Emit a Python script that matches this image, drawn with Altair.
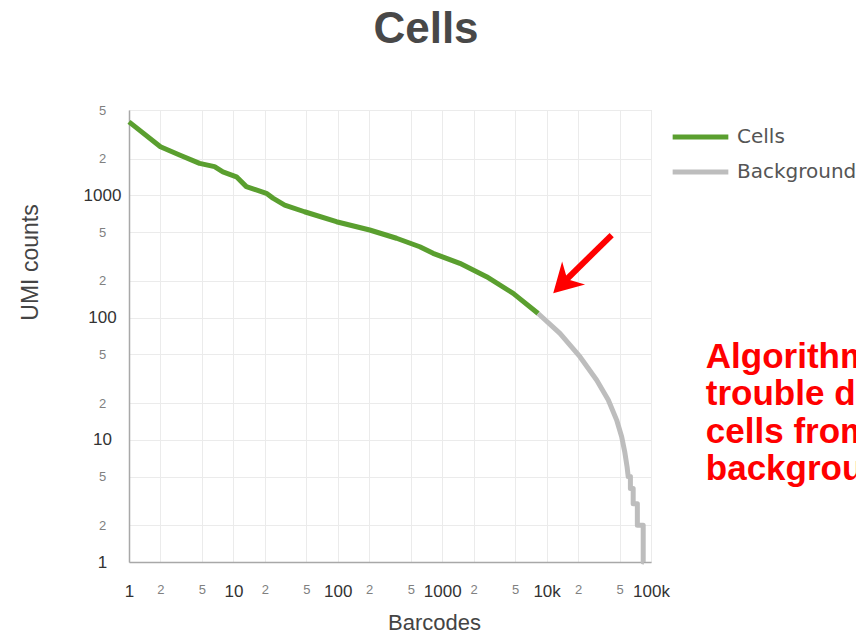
import altair as alt
import pandas as pd

# Barcode rank curve: barcodes called as cells
cell_barcodes = [1, 2, 3.05, 4.74, 6.6, 7.93, 10.7, 13.3, 20.7, 23.9, 31, 48, 97, 202,
                 365, 610, 818, 1475, 2660, 4786, 8300]
cell_umis = [4000, 2500, 2140, 1830, 1720, 1560, 1420, 1180, 1040, 950, 834, 735, 609,
             521, 446, 380, 336, 278, 216, 158, 108]

# Remaining barcodes treated as background
bg_barcodes = [8300, 13420, 20850, 30130, 38990, 46900, 52360, 56000, 59000, 60500,
               63500, 63500, 67500, 67500, 74000, 74000, 84200, 84200, 85500]
bg_umis = [108, 74.4, 47.9, 30.9, 21.2, 14.5, 10.6, 8, 6, 5,
           5, 4, 4, 3, 3, 2, 2, 1, 1]

series_names = ["Cells", "Background"]
series_colors = ["#5a9f2f", "#bdbdbd"]

x_ticks = [1, 2, 5, 10, 20, 50, 100, 200, 500, 1000, 2000, 5000,
           10000, 20000, 50000, 100000]
y_ticks = [1, 2, 5, 10, 20, 50, 100, 200, 500, 1000, 2000, 5000]

# Annotation arrow (tail -> into the head) and note, in data coordinates
arrow_barcodes = [42000, 14330]
arrow_umis = [474, 192]
head_barcode = [11570]
head_umi = [158]
note_barcode = [335000]
note_umi = [66]
note_text = "Algorithm has\ntrouble distinguishing\ncells from\nbackground"

rows = []
for i, (b, u) in enumerate(zip(cell_barcodes, cell_umis)):
    rows.append({"barcode": b, "umi": u, "type": "Cells", "idx": i})
for i, (b, u) in enumerate(zip(bg_barcodes, bg_umis)):
    rows.append({"barcode": b, "umi": u, "type": "Background", "idx": i})
curve = pd.DataFrame(rows)

MAJOR = "abs(log(datum.value)/LN10 - round(log(datum.value)/LN10)) < 0.001"

x_axis = alt.Axis(
    values=x_ticks, format="d", title="Barcodes",
    labelExpr=f"({MAJOR}) ? (datum.value >= 10000 ? (datum.value/1000) + 'k' : datum.label) : substring(datum.label, 0, 1)",
    labelFontSize={"condition": {"test": MAJOR, "value": 17}, "value": 13},
    labelColor={"condition": {"test": MAJOR, "value": "#333333"}, "value": "#808080"},
    labelPadding=21, labelAngle=0, labelFlush=False, labelOverlap=False,
    ticks=False, tickSize=0, domainColor="#a8a8a8", domainWidth=1.5,
    gridColor="#ebebeb", titleFontSize=22, titleFontWeight="normal", titleColor="#444444",
    titleX=305, titleY=60, titleBaseline="middle", titleAlign="center",
)
y_axis = alt.Axis(
    values=y_ticks, format="d", title="UMI counts",
    labelExpr=f"({MAJOR}) ? datum.label : substring(datum.label, 0, 1)",
    labelFontSize={"condition": {"test": MAJOR, "value": 17}, "value": 13},
    labelColor={"condition": {"test": MAJOR, "value": "#333333"}, "value": "#808080"},
    labelAlign="center", labelPadding=27, labelFlush=False, labelOverlap=False,
    ticks=False, tickSize=0, domainColor="#a8a8a8", domainWidth=1.5,
    gridColor="#ebebeb", titleFontSize=23, titleFontWeight="normal", titleColor="#444444",
    titleX=-99, titleY=152, titleAngle=-90, titleBaseline="middle", titleAlign="center",
)

x_scale = alt.Scale(type="log", domain=[1, 100000], nice=False)
y_scale = alt.Scale(type="log", domain=[1, 5000], nice=False)

lines = alt.Chart(curve).mark_line(strokeWidth=5, strokeJoin="round").encode(
    x=alt.X("barcode:Q", scale=x_scale, axis=x_axis),
    y=alt.Y("umi:Q", scale=y_scale, axis=y_axis),
    color=alt.Color(
        "type:N",
        scale=alt.Scale(domain=series_names, range=series_colors),
        legend=alt.Legend(
            title=None, orient="none", legendX=541, legendY=16,
            symbolType="stroke", symbolSize=3100, symbolStrokeWidth=5,
            labelFont="DejaVu Sans", labelFontSize=20, labelColor="#555555",
            labelOffset=6, clipHeight=22, rowPadding=13,
        ),
    ),
    detail="type:N",
    order="idx:Q",
)

arrow_df = pd.DataFrame({"barcode": [arrow_barcodes[0]], "umi": [arrow_umis[0]],
                         "barcode2": [arrow_barcodes[1]], "umi2": [arrow_umis[1]]})
shaft = alt.Chart(arrow_df).mark_rule(color="#ff0000", strokeWidth=6).encode(
    x=alt.X("barcode:Q", scale=x_scale), y=alt.Y("umi:Q", scale=y_scale),
    x2="barcode2:Q", y2="umi2:Q",
)
head = alt.Chart(pd.DataFrame({"barcode": head_barcode, "umi": head_umi})).mark_point(
    shape="M0,0L-0.9,-1.6L0,-1.1L0.9,-1.6Z", filled=True, opacity=1, color="#ff0000",
    size=1300, angle=45,
).encode(x=alt.X("barcode:Q", scale=x_scale), y=alt.Y("umi:Q", scale=y_scale))

note = alt.Chart(pd.DataFrame({"barcode": note_barcode, "umi": note_umi, "t": [note_text]})).mark_text(
    align="left", baseline="top", fontSize=35, fontWeight="bold", color="#ff0000",
    font="Liberation Sans", lineBreak="\n", lineHeight=37.5, clip=False,
).encode(x=alt.X("barcode:Q", scale=x_scale), y=alt.Y("umi:Q", scale=y_scale), text="t:N")

chart = alt.layer(lines, shaft, head, note).properties(
    width=522, height=452,
    title=alt.TitleParams("Cells", fontSize=44, fontWeight="bold", color="#484848",
                          anchor="middle", dx=36, offset=52, font="Liberation Sans"),
    autosize=alt.AutoSizeParams(type="none"),
    padding={"left": 129, "top": 110, "right": 205, "bottom": 75},
).configure_view(stroke=None).configure(font="Liberation Sans")

chart.save("out.html", embed_options={"renderer": "svg", "actions": False})
